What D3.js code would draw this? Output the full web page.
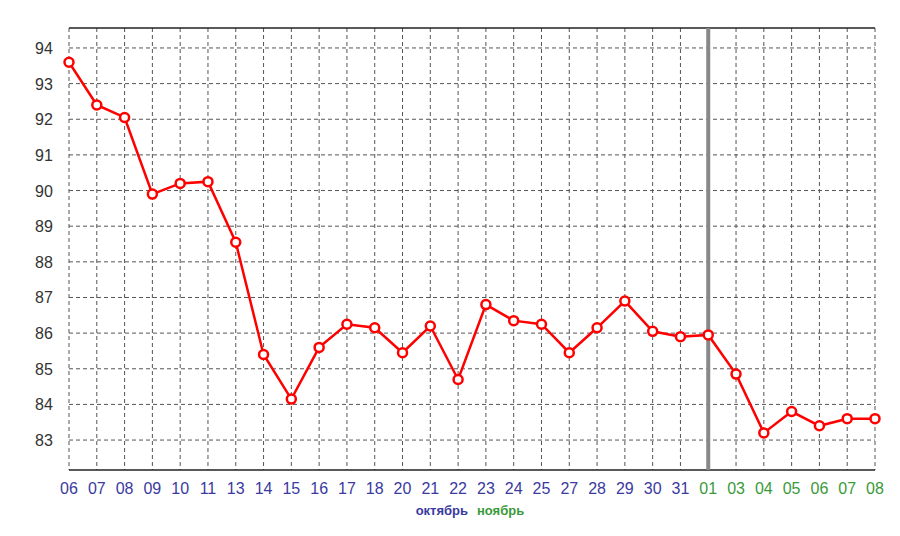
<!DOCTYPE html>
<html>
<meta charset="utf-8">
<style>
  body { margin: 0; background: #fff; }
  text { font-family: "Liberation Sans", Arial, sans-serif; }
</style>
<body>
<script src="https://d3js.org/d3.v7.min.js"></script>
<script>
  let width = 900, height = 536;
  let x0 = 69, x1 = 875, yTop = 28, yBot = 470;

  let days = ["06","07","08","09","10","11","13","14","15","16","17","18","20","21","22","23","24","25","27","28","29","30","31",
              "01","03","04","05","06","07","08"];
  let months = ["oct","oct","oct","oct","oct","oct","oct","oct","oct","oct","oct","oct","oct","oct","oct","oct","oct","oct","oct","oct","oct","oct","oct",
                "nov","nov","nov","nov","nov","nov","nov"];
  let values = [93.6, 92.4, 92.05, 89.9, 90.2, 90.25, 88.55, 85.4, 84.15, 85.6, 86.25, 86.15, 85.45, 86.2, 84.7, 86.8, 86.35, 86.25, 85.45, 86.15, 86.9, 86.05, 85.9, 85.95, 84.85, 83.2, 83.8, 83.4, 83.6, 83.6];
  let yTicks = [83, 84, 85, 86, 87, 88, 89, 90, 91, 92, 93, 94];

  let x = d3.scaleLinear().domain([0, days.length - 1]).range([x0, x1]);
  let y = d3.scaleLinear().domain([82.16, 94.56]).range([yBot, yTop]);

  let svg = d3.select("body").append("svg").attr("width", width).attr("height", height);

  // grid
  svg.selectAll(".vg").data(days).join("line")
    .attr("x1", (d, i) => x(i)).attr("x2", (d, i) => x(i))
    .attr("y1", yTop).attr("y2", yBot)
    .attr("stroke", "#555").attr("stroke-dasharray", "4,3").attr("stroke-width", 1);
  svg.selectAll(".hg").data(yTicks).join("line")
    .attr("x1", x0).attr("x2", x1)
    .attr("y1", d => y(d)).attr("y2", d => y(d))
    .attr("stroke", "#555").attr("stroke-dasharray", "4,3").attr("stroke-width", 1);

  // frame
  svg.append("line").attr("x1", x0).attr("x2", x1).attr("y1", yTop).attr("y2", yTop).attr("stroke", "#222").attr("stroke-width", 1.5);
  svg.append("line").attr("x1", x0).attr("x2", x1).attr("y1", yBot).attr("y2", yBot).attr("stroke", "#222").attr("stroke-width", 1.5);

  // month separator
  let sep = months.indexOf("nov");
  svg.append("line").attr("x1", x(sep)).attr("x2", x(sep)).attr("y1", yTop).attr("y2", yBot)
    .attr("stroke", "#888").attr("stroke-width", 4);

  // y labels
  svg.selectAll(".yl").data(yTicks).join("text")
    .attr("x", 44).attr("y", d => y(d) + 6).attr("text-anchor", "middle")
    .attr("font-size", 16).attr("fill", "#333").text(d => d);

  // x labels
  svg.selectAll(".xl").data(days).join("text")
    .attr("x", (d, i) => x(i)).attr("y", 494).attr("text-anchor", "middle")
    .attr("font-size", 16).attr("fill", (d, i) => months[i] == "oct" ? "#3a3aa0" : "#3a9a3a").text(d => d);

  svg.append("text").attr("x", 468).attr("y", 515).attr("text-anchor", "end")
    .attr("font-size", 13).attr("font-weight", "bold").attr("fill", "#3a3aa0").text("октябрь");
  svg.append("text").attr("x", 477).attr("y", 515).attr("text-anchor", "start")
    .attr("font-size", 13).attr("font-weight", "bold").attr("fill", "#3a9a3a").text("ноябрь");

  // line
  let line = d3.line().x((d, i) => x(i)).y(d => y(d));
  svg.append("path").datum(values).attr("d", line)
    .attr("fill", "none").attr("stroke", "#f00").attr("stroke-width", 2.5);
  svg.selectAll(".pt").data(values).join("circle")
    .attr("cx", (d, i) => x(i)).attr("cy", d => y(d)).attr("r", 4.5)
    .attr("fill", "#fff").attr("stroke", "#f00").attr("stroke-width", 2.5);
</script>
</body>
</html>
